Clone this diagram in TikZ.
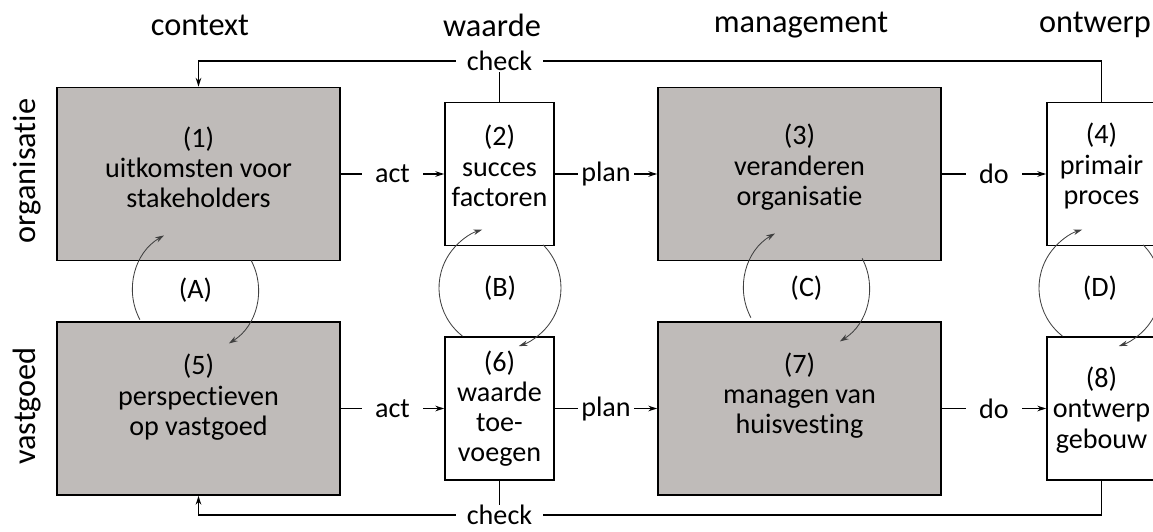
\documentclass[tikz,border=0pt]{standalone}
\usepackage{fontspec}
\setmainfont{Carlito}[Ligatures=NoCommon]
\usetikzlibrary{arrows.meta}
\definecolor{boxgray}{RGB}{191,187,185}
\tikzset{
  bigbox/.style = {draw, line width=1.2pt, fill=boxgray, minimum width=7.075cm, minimum height=4.325cm},
  smallbox/.style = {draw, line width=1.2pt, fill=white, minimum width=2.725cm, minimum height=3.575cm},
  boxtext/.style = {align=center, inner sep=0pt},
  header/.style = {font=\fontsize{23}{27}\selectfont},
  conline/.style = {line width=0.9pt},
  conlabel/.style = {fill=white, inner xsep=0.33cm, inner ysep=0.03cm},
  circarrow/.style = {->, line width=0.6pt, black!75}
}

\begin{document}
\begin{tikzpicture}[x=0.025cm, y=0.025cm, >={Stealth[length=0.22cm,width=0.14cm]},
    font=\fontsize{20}{21.5}\selectfont]
        \useasboundingbox (0,0) rectangle (1153,-532);
        \clip (0,0) rectangle (1153,-532);
        % kolommen en rijen
        \node[header] (hcontext) at (200,-25) {context};
        \node[header] (hwaarde) at (492,-25) {waarde};
        \node[header] (hmanagement) at (801,-25) {management};
        \node[header] (hontwerp) at (1095,-25) {ontwerp};
        \node[header, rotate=90] (rorg) at (27,-171) {organisatie};
        \node[header, rotate=90] (rvast) at (27,-406) {vastgoed};
        % blokken
        \node[bigbox] (b1) at (198.5,-174) {};
        \node[smallbox] (b2) at (499.5,-174) {};
        \node[bigbox] (b3) at (799.5,-174) {};
        \node[smallbox] (b4) at (1101.5,-174) {};
        \node[bigbox] (b5) at (198.5,-408.5) {};
        \node[smallbox] (b6) at (499.5,-408.5) {};
        \node[bigbox] (b7) at (799.5,-408.5) {};
        \node[smallbox] (b8) at (1101.5,-408.5) {};
        \node[boxtext] (t1) at ([yshift=0.17cm]b1.center) {(1)\\uitkomsten voor\\stakeholders};
        \node[boxtext] (t2) at ([yshift=0.2cm]b2.center) {(2)\\succes\\factoren};
        \node[boxtext] (t3) at ([yshift=0.17cm]b3.center) {(3)\\veranderen\\organisatie};
        \node[boxtext] (t4) at ([yshift=0.2cm]b4.center) {(4)\\primair\\proces};
        \node[boxtext] (t5) at ([yshift=0.28cm]b5.center) {(5)\\perspectieven\\op vastgoed};
        \node[boxtext] (t6) at ([yshift=0.0cm]b6.center) {(6)\\waarde\\toe-\\voegen};
        \node[boxtext] (t7) at ([yshift=0.32cm]b7.center) {(7)\\managen van\\huisvesting};
        \node[boxtext] (t8) at ([yshift=-0.04cm]b8.center) {(8)\\ontwerp\\gebouw};
        % act, plan, do
        \draw[conline, ->] (b1) -- node[conlabel] (act1) {act} (b2);
        \draw[conline, ->] (b2) -- node[conlabel, inner xsep=0.08cm] (plan1) {plan} (b3);
        \draw[conline, ->] (b3) -- node[conlabel] (do1) {do} (b4);
        \draw[conline, ->] (b5) -- node[conlabel] (act2) {act} (b6);
        \draw[conline, ->] (b6) -- node[conlabel, inner xsep=0.08cm] (plan2) {plan} (b7);
        \draw[conline, ->] (b7) -- node[conlabel] (do2) {do} (b8);
        % check
        \coordinate (ctop) at (0,-61);
        \coordinate (cbot) at (0,-515);
        \draw[conline, ->] (b4.north) |- (b1.north |- ctop) -- (b1.north);
        \node[conlabel, inner xsep=0.28cm] (chk1) at (b2.north |- ctop) {check};
        \draw[conline] (b2.north) -- (chk1);
        \draw[conline, ->] (b8.south) |- (b5.south |- cbot) -- (b5.south);
        \node[conlabel, inner xsep=0.28cm, inner ysep=0pt] (chk2) at (b6.south |- cbot) {check};
        \draw[conline] (b6.south) -- (chk2);
        % kringlopen
        \coordinate (cA) at (195.5,-290);
        \coordinate (cB) at (500,-288);
        \coordinate (cC) at (806.5,-288);
        \coordinate (cD) at (1100,-288);
        \foreach \c in {A,C} {
          \draw[circarrow] ([shift={(208:63)}]c\c) arc[start angle=208, end angle=120, radius=63];
          \draw[circarrow] ([shift={(28:63)}]c\c) arc[start angle=28, end angle=-58, radius=63];
        }
        \foreach \c in {B,D} {
          \draw[circarrow] ([shift={(232:61)}]c\c) arc[start angle=232, end angle=107, radius=61];
          \draw[circarrow] ([shift={(45:61)}]c\c) arc[start angle=45, end angle=-72, radius=61];
        }
        \node (lA) at (cA) {(A)};
        \node (lB) at (cB) {(B)};
        \node (lC) at (cC) {(C)};
        \node (lD) at (cD) {(D)};
      \end{tikzpicture}
\end{document}
